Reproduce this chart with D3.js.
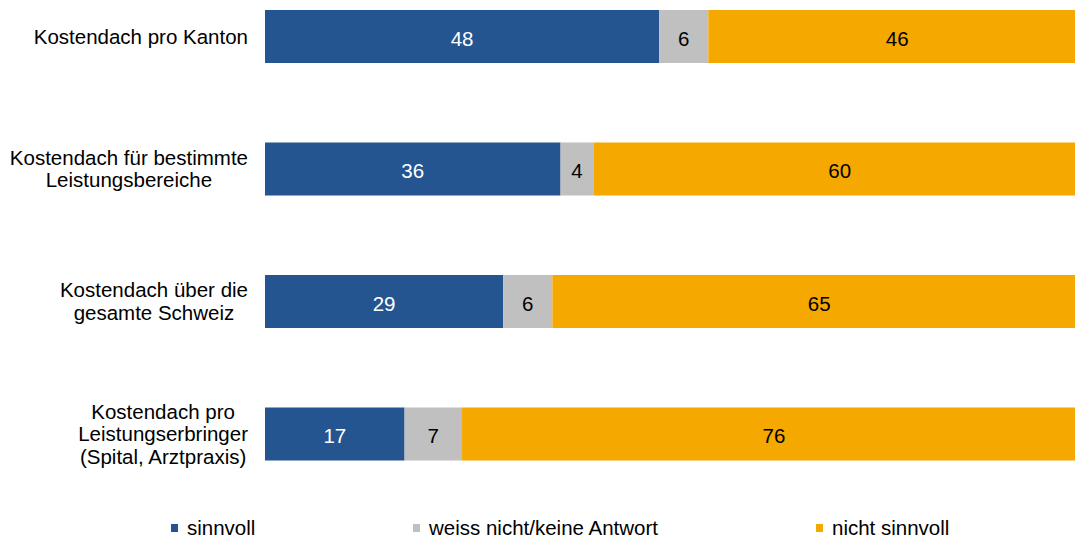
<!DOCTYPE html>
<html>
<head>
<meta charset="utf-8">
<script src="https://cdn.jsdelivr.net/npm/d3@7.9.0/dist/d3.min.js"></script>
<style>
  body { margin: 0; background: #fff; }
  svg { display: block; font-family: 'Liberation Sans', Arial, sans-serif; }
</style>
</head>
<body>
<svg id="chart" width="1075" height="539"></svg>
<script>
const categories = [
  ['Kostendach pro Kanton'],
  ['Kostendach für bestimmte', 'Leistungsbereiche'],
  ['Kostendach über die', 'gesamte Schweiz'],
  ['Kostendach pro', 'Leistungserbringer', '(Spital, Arztpraxis)']
];
const seriesNames = ['sinnvoll', 'weiss nicht/keine Antwort', 'nicht sinnvoll'];
const sinnvoll = [48, 36, 29, 17];
const weissNicht = [6, 4, 6, 7];
const nichtSinnvoll = [46, 60, 65, 76];

const colors = ['#245590', '#c0c0c0', '#f5a800'];
const labelColors = ['#ffffff', '#000000', '#000000'];
const fontSize = 20.5;

const svg = d3.select('#chart');

const rows = categories.map((lines, i) => ({
  key: lines.join(' '),
  lines,
  values: [sinnvoll[i], weissNicht[i], nichtSinnvoll[i]]
}));

// the bars run a bit past the right edge of the picture, like the original
const x = d3.scaleLinear().domain([0, 100]).range([265, 1086]);
const y = d3.scaleBand()
  .domain(rows.map((d) => d.key))
  .range([10, 460.5])
  .paddingInner(0.6)
  .paddingOuter(0);

const stack = d3.stack().keys([0, 1, 2]).value((d, k) => d.values[k]);
const stacked = stack(rows);

stacked.forEach((layer, k) => {
  const g = svg.append('g');
  g.selectAll('rect')
    .data(layer)
    .join('rect')
    .attr('x', (d) => x(d[0]))
    .attr('y', (d) => y(d.data.key))
    .attr('width', (d) => x(d[1]) - x(d[0]))
    .attr('height', y.bandwidth())
    .attr('fill', colors[k]);

  g.selectAll('text')
    .data(layer)
    .join('text')
    .attr('x', (d) => (x(d[0]) + x(d[1])) / 2)
    .attr('y', (d) => y(d.data.key) + y.bandwidth() / 2 + fontSize * 0.35 + 2)
    .attr('text-anchor', 'middle')
    .attr('font-size', fontSize)
    .attr('fill', labelColors[k])
    .text((d) => d[1] - d[0]);
});

// category labels: centred block, right edge at 248
const lineH = 22.5;
rows.forEach((row) => {
  const cy = y(row.key) + y.bandwidth() / 2;
  const t = svg.append('text')
    .attr('font-size', fontSize)
    .attr('fill', '#000')
    .attr('text-anchor', 'middle');
  const spans = row.lines.map((line, j) =>
    t.append('tspan')
      .attr('y', cy + (j - (row.lines.length - 1) / 2) * lineH + fontSize * 0.35)
      .text(line)
  );
  const maxW = d3.max(spans, (s) => s.node().getComputedTextLength());
  spans.forEach((s) => s.attr('x', 248 - maxW / 2));
});

// legend
const legendX = [171, 413, 816];
const legend = svg.append('g');
seriesNames.forEach((name, k) => {
  legend.append('rect')
    .attr('x', legendX[k])
    .attr('y', 524)
    .attr('width', 7)
    .attr('height', 8)
    .attr('fill', colors[k]);
  legend.append('text')
    .attr('x', legendX[k] + 16)
    .attr('y', 535)
    .attr('font-size', fontSize)
    .attr('fill', '#000')
    .text(name);
});
</script>
</body>
</html>
